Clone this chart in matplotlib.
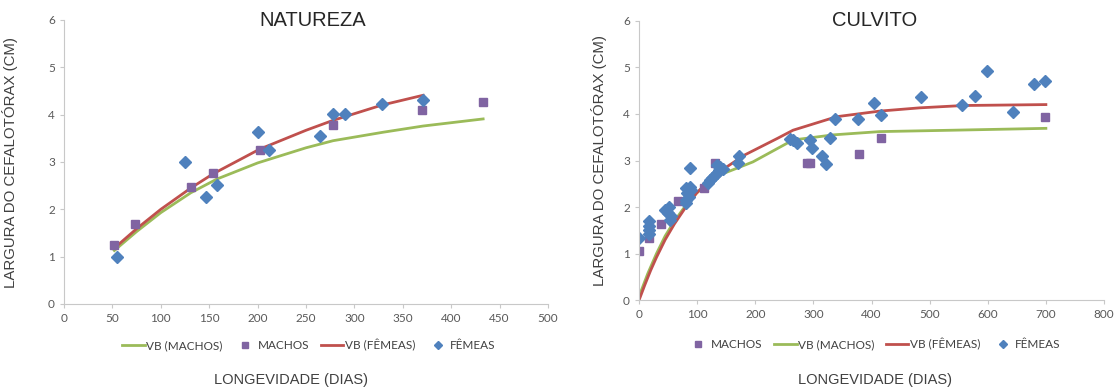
import matplotlib.pyplot as plt

# cores no estilo do Excel
VERDE = '#9bbb59'
VERMELHO = '#c0504d'
ROXO = '#8064a2'
AZUL = '#4f81bd'
CINZA = '#595959'

# NATUREZA
nat_machos_x = [52, 73, 131, 154, 202, 278, 370, 433]
nat_machos_y = [1.25, 1.68, 2.47, 2.76, 3.26, 3.78, 4.09, 4.27]
nat_femeas_x = [55, 125, 147, 158, 200, 212, 264, 278, 290, 328, 371]
nat_femeas_y = [1.0, 3.01, 2.26, 2.51, 3.64, 3.26, 3.55, 4.02, 4.02, 4.22, 4.32]
nat_vb_machos_x = [52, 75, 100, 131, 158, 200, 250, 278, 330, 371, 433]
nat_vb_machos_y = [1.13, 1.53, 1.93, 2.35, 2.64, 2.98, 3.3, 3.45, 3.63, 3.76, 3.91]
nat_vb_femeas_x = [52, 75, 100, 131, 154, 202, 250, 278, 328, 371]
nat_vb_femeas_y = [1.18, 1.59, 2.0, 2.45, 2.75, 3.27, 3.67, 3.88, 4.2, 4.41]

# CULVITO
cul_machos_x = [0, 17, 38, 67, 112, 131, 289, 295, 379, 416, 698]
cul_machos_y = [1.06, 1.34, 1.64, 2.13, 2.42, 2.94, 2.94, 2.94, 3.13, 3.48, 3.93]
cul_femeas_x = [0, 17, 17, 17, 17, 45, 52, 50, 55, 53,
                81, 88, 89, 83, 86, 81, 80, 87,
                118, 122, 126, 130, 134, 138, 140, 135, 145,
                172, 170, 260, 265, 271, 295, 298, 314, 321,
                329, 338, 377, 404, 416, 485, 555, 578, 598, 643, 679, 699]
cul_femeas_y = [1.34, 1.70, 1.60, 1.51, 1.42, 1.93, 2.0, 1.87, 1.8, 1.73,
                2.40, 2.44, 2.37, 2.30, 2.22, 2.15, 2.08, 2.83,
                2.52, 2.58, 2.63, 2.68, 2.74, 2.80, 2.86, 2.90, 2.82,
                3.09, 2.95, 3.46, 3.44, 3.38, 3.45, 3.26, 3.10, 2.93,
                3.48, 3.90, 3.89, 4.23, 3.98, 4.36, 4.19, 4.38, 4.91, 4.05, 4.64, 4.70]
cul_vb_machos_x = [0, 15, 30, 45, 61, 80, 99, 122, 139, 196, 265, 334, 414, 540, 700]
cul_vb_machos_y = [0.08, 0.57, 1.0, 1.38, 1.7, 2.03, 2.3, 2.56, 2.69, 2.97, 3.44, 3.55, 3.62, 3.65, 3.69]
cul_vb_femeas_x = [0, 10, 20, 30, 45, 61, 81, 99, 119, 147, 182, 239, 265, 340, 414, 483, 558, 700]
cul_vb_femeas_y = [0.0, 0.33, 0.64, 0.92, 1.3, 1.64, 2.01, 2.3, 2.55, 2.83, 3.12, 3.48, 3.65, 3.94, 4.06,
                   4.13, 4.18, 4.2]

plt.rcParams['font.family'] = ['Liberation Sans', 'DejaVu Sans']

W, H = 1115, 392
fig = plt.figure(figsize=(W / 100, H / 100), dpi=100)
ax1 = fig.add_axes([64 / W, 1 - 304 / H, 484 / W, 284 / H])
ax2 = fig.add_axes([639 / W, 1 - 300.3 / H, 465 / W, 279.6 / H])


def estilo(ax, xmax, xstep, lx):
    ax.set_ylim(0, 6)
    ax.set_xlim(0, xmax)
    ax.set_xticks(range(0, xmax + 1, xstep))
    ax.set_yticks(range(0, 7))
    for s in ['top', 'right']:
        ax.spines[s].set_visible(False)
    for s in ['left', 'bottom']:
        ax.spines[s].set_color('#c8c8c8')
    ax.tick_params(colors='#c8c8c8', labelcolor=CINZA, labelsize=8.5, length=3)
    for lab in ax.get_xticklabels() + ax.get_yticklabels():
        lab.set_fontfamily(['Lato', 'DejaVu Sans'])
    ax.set_ylabel('LARGURA DO CEFALOTÓRAX (CM)', fontsize=10.8, color='#404040')
    ax.yaxis.set_label_coords(lx, 0.5)


estilo(ax1, 500, 50, -0.095)
estilo(ax2, 800, 100, -0.069)

l_vbm, = ax1.plot(nat_vb_machos_x, nat_vb_machos_y, color=VERDE, lw=2)
l_vbf, = ax1.plot(nat_vb_femeas_x, nat_vb_femeas_y, color=VERMELHO, lw=2)
l_m, = ax1.plot(nat_machos_x, nat_machos_y, 's', color=ROXO, ms=5.5, ls='none')
l_f, = ax1.plot(nat_femeas_x, nat_femeas_y, 'D', color=AZUL, ms=6, ls='none')

r_vbm, = ax2.plot(cul_vb_machos_x, cul_vb_machos_y, color=VERDE, lw=2)
r_vbf, = ax2.plot(cul_vb_femeas_x, cul_vb_femeas_y, color=VERMELHO, lw=2)
r_m, = ax2.plot(cul_machos_x, cul_machos_y, 's', color=ROXO, ms=5.5, ls='none')
r_f, = ax2.plot(cul_femeas_x, cul_femeas_y, 'D', color=AZUL, ms=6, ls='none')

fig.text(313 / W, 1 - 20 / H, 'NATUREZA', fontsize=14.5, color='#262626', ha='center', va='center')
fig.text(875 / W, 1 - 20 / H, 'CULVITO', fontsize=14.5, color='#262626', ha='center', va='center')

leg_kw = dict(ncol=4, frameon=False, loc='center', handlelength=1.9,
              handletextpad=0.1, columnspacing=1.0, markerscale=0.7, labelcolor='#404040',
              prop={'family': ['Lato', 'DejaVu Sans'], 'size': 8.5})
fig.legend([l_vbm, l_m, l_vbf, l_f], ['VB (MACHOS)', 'MACHOS', 'VB (FÊMEAS)', 'FÊMEAS'],
           bbox_to_anchor=(309 / W, 1 - 345 / H), **leg_kw)
fig.legend([r_m, r_vbm, r_vbf, r_f], ['MACHOS', 'VB (MACHOS)', 'VB (FÊMEAS)', 'FÊMEAS'],
           bbox_to_anchor=(874 / W, 1 - 344 / H), **leg_kw)

fig.text(291 / W, 1 - 380 / H, 'LONGEVIDADE (DIAS)', fontsize=10.5, color='#404040',
         ha='center', va='center')
fig.text(875 / W, 1 - 380 / H, 'LONGEVIDADE (DIAS)', fontsize=10.5, color='#404040',
         ha='center', va='center')

fig.savefig('out.png', dpi=100)
